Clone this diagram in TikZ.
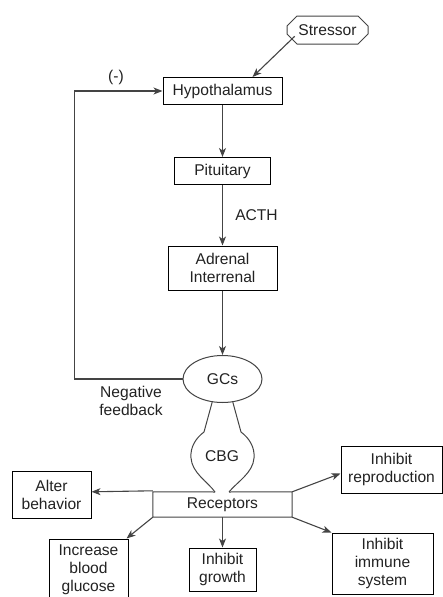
\documentclass[tikz,border=0pt]{standalone}
\usepackage{fontspec}
\setmainfont{Liberation Sans}
\usetikzlibrary{arrows.meta,shapes.misc,shapes.geometric}
\definecolor{ln}{HTML}{444444}
\definecolor{tx}{HTML}{222222}
\begin{document}
\begin{tikzpicture}[x=1pt,y=-1pt,
  every node/.style={font=\fontsize{15.6}{18}\selectfont, text=tx, inner sep=0pt, align=center},
  box/.style={draw=black, line width=1pt, minimum width=#1},
  gshape/.style={draw=ln, line width=1pt},
  arr/.style={draw=ln, line width=1.1pt, -{Stealth[length=9pt,width=7pt,inset=2.5pt]}},
  lbl/.style={}
]
\useasboundingbox (0,0) rectangle (443,597);
% nodes
\node[chamfered rectangle, chamfered rectangle xsep=5pt, chamfered rectangle ysep=5pt, draw=ln, line width=1pt, minimum width=81pt, minimum height=28pt] (stressor) at (327.5,30) {Stressor};
\node[box=119pt, minimum height=27pt] (hypo) at (222.5,91) {Hypothalamus};
\node[box=96pt, minimum height=27pt] (pit) at (222.5,171) {Pituitary};
\node[box=109pt, minimum height=44pt] (adr) at (222.5,268) {Adrenal\\Interrenal};
\node[ellipse, gshape, minimum width=79pt, minimum height=47pt] (gcs) at (222.5,379) {GCs};
\node (rec) [minimum width=139pt, minimum height=25pt] at (222.5,504.5) {Receptors};
\node[box=79pt, minimum height=47pt] (alter) at (51.5,494.5) {Alter\\behavior};
\node[box=101pt, minimum height=47pt] (repro) at (391.5,469.5) {Inhibit\\reproduction};
\node[box=79pt, minimum height=62pt] (gluc) at (88.5,570) {Increase\\blood\\glucose};
\node[box=67pt, minimum height=43pt] (growth) at (222.5,569.5) {Inhibit\\growth};
\node[box=101pt, minimum height=61pt] (immune) at (382.5,563.5) {Inhibit\\immune\\system};
\node (cbg) at (222,456) {CBG};
\node[lbl] (minus) at (116,77) {(-)};
\node[lbl] (negfb) at (131,401) {Negative\\feedback};
\node[lbl] (acth) at (256.5,215) {ACTH};
% receptors outline with opening
\draw[gshape] (215,492) -- (rec.north west) -- (rec.south west) -- (rec.south east) -- (rec.north east) -- (229,492);
% CBG flask
\draw[gshape] (gcs.-114) -- (204,432) .. controls (196,438) and (190,447) .. (191,458) .. controls (192,473) and (208,482) .. (215,492);
\draw[gshape] (gcs.-66) -- (241,432) .. controls (249,438) and (255,447) .. (254,458) .. controls (253,473) and (237,482) .. (229,492);
% connectors
\draw[arr] ([xshift=3pt,yshift=3pt]stressor.south west) -- ([xshift=30pt]hypo.north);
\draw[arr] (hypo) -- (pit);
\draw[arr] (pit) -- (adr);
\draw[arr] (adr) -- (gcs);
\draw[arr] (gcs.west) -- ++(-108,0) |- (hypo.west);
\draw[arr] ([yshift=1pt]rec.north west) -- (alter.east |- rec.north west);
\draw[arr] (rec.north east) -- ([yshift=-4pt]repro.west);
\draw[arr] (rec.south west) -- ([xshift=-2pt]gluc.north east);
\draw[arr] (rec.south) -- (growth.north);
\draw[arr] (rec.south east) -- (immune.north west);
\end{tikzpicture}
\end{document}
